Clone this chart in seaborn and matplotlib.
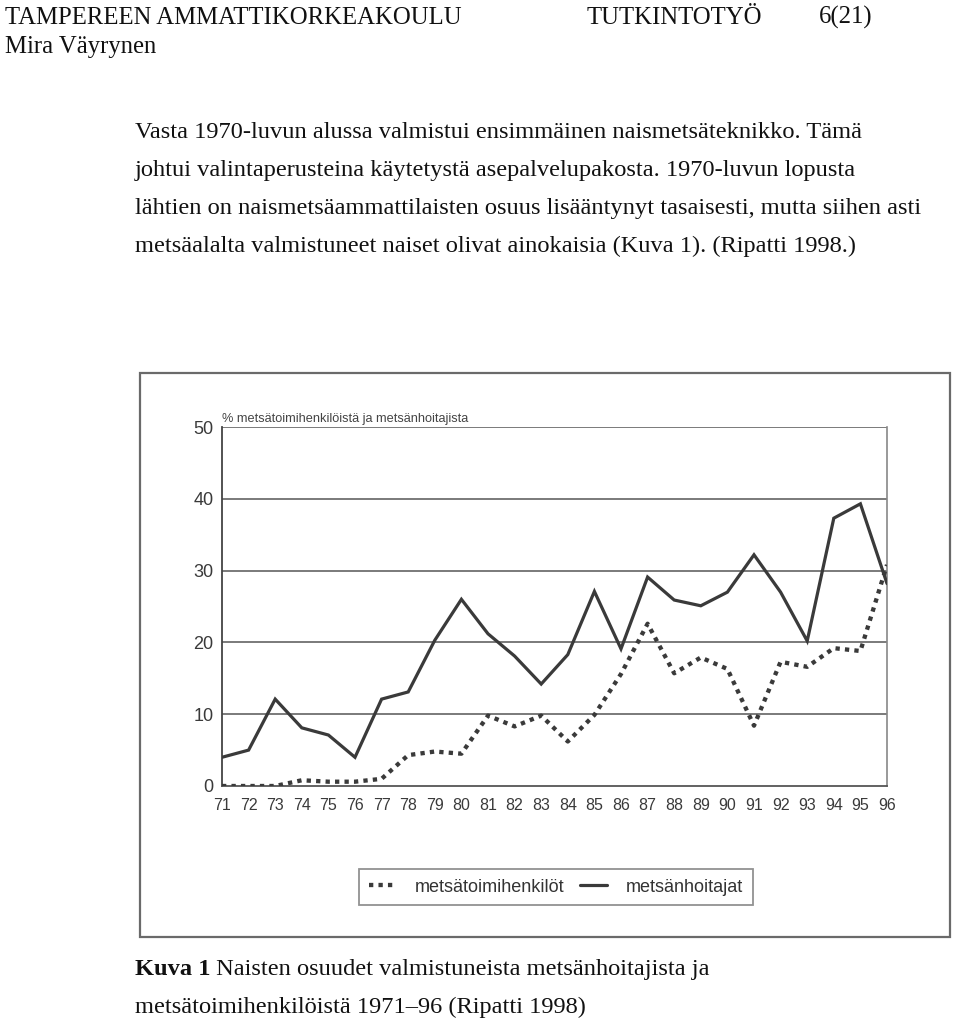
import matplotlib
matplotlib.use("Agg")
import matplotlib.pyplot as plt
import seaborn as sns
import pandas as pd
from matplotlib.patches import Rectangle
from matplotlib.lines import Line2D

# ---- data ----
years = list(range(1971, 1997))
year_labels = [str(y)[2:] for y in years]
metsanhoitajat = [4.0, 5.0, 12.1, 8.1, 7.1, 4.0, 12.1, 13.1, 20.3, 26.0, 21.2, 18.1, 14.2,
                  18.3, 27.1, 19.1, 29.1, 25.9, 25.1, 27.0, 32.2, 27.0, 20.2, 37.3, 39.3, 28.2]
metsatoimihenkilot = [0.0, 0.0, 0.0, 0.8, 0.6, 0.6, 1.0, 4.3, 4.8, 4.5, 9.8, 8.3, 9.8,
                      6.2, 9.9, 15.6, 22.6, 15.7, 17.9, 16.3, 8.4, 17.3, 16.6, 19.2, 18.8, 30.8]
y_ticks = [0, 10, 20, 30, 40, 50]
ylabel_text = "% metsätoimihenkilöistä ja metsänhoitajista"
legend_labels = ["metsätoimihenkilöt", "metsänhoitajat"]

header_left = ["TAMPEREEN AMMATTIKORKEAKOULU", "Mira Väyrynen"]
header_mid = "TUTKINTOTYÖ"
header_right = "6(21)"
body_lines = [
    "Vasta 1970-luvun alussa valmistui ensimmäinen naismetsäteknikko. Tämä",
    "johtui valintaperusteina käytetystä asepalvelupakosta. 1970-luvun lopusta",
    "lähtien on naismetsäammattilaisten osuus lisääntynyt tasaisesti, mutta siihen asti",
    "metsäalalta valmistuneet naiset olivat ainokaisia (Kuva 1). (Ripatti 1998.)",
]
caption_bold = "Kuva 1"
caption_rest = " Naisten osuudet valmistuneista metsänhoitajista ja"
caption_line2 = "metsätoimihenkilöistä 1971–96 (Ripatti 1998)"

df = pd.DataFrame({"year": years, "mh": metsanhoitajat, "mt": metsatoimihenkilot})

sns.set_style("white")
plt.rcParams["font.family"] = ["Liberation Sans", "DejaVu Sans"]

W, H = 960, 1026
fig = plt.figure(figsize=(W / 100, H / 100), dpi=100)

def fx(px):
    return px / W

def fy(py):
    return 1 - py / H

serif = ["Liberation Serif", "DejaVu Serif"]
tc = "#111111"
hs = 17.8
bs = 17.6
# header
fig.text(fx(5), fy(24), header_left[0], family=serif, fontsize=hs, color=tc, va="baseline")
fig.text(fx(5), fy(53), header_left[1], family=serif, fontsize=hs, color=tc, va="baseline")
fig.text(fx(587), fy(24), header_mid, family=serif, fontsize=hs, color=tc, va="baseline")
fig.text(fx(819), fy(24), header_right, family=serif, fontsize=hs, color=tc, va="baseline")
# body
for i, line in enumerate(body_lines):
    fig.text(fx(135), fy(138 + i * 38), line, family=serif, fontsize=bs, color=tc, va="baseline")

# caption
t1 = fig.text(fx(135), fy(975), caption_bold, family=serif, fontsize=bs, weight="bold",
              color=tc, va="baseline")
fig.canvas.draw()
bb = t1.get_window_extent()
fig.text(bb.x1 / W, fy(975), caption_rest, family=serif, fontsize=bs, color=tc, va="baseline")
fig.text(fx(135), fy(1013), caption_line2, family=serif, fontsize=bs, color=tc, va="baseline")

# outer chart frame
fig.patches.append(Rectangle((fx(140), fy(937)), fx(950) - fx(140), fy(373) - fy(937),
                             transform=fig.transFigure, fill=False, edgecolor="#6a6a6a",
                             linewidth=1.6))

# axes
ax_left, ax_right, ax_top, ax_bottom = 222, 887, 427, 786
ax = fig.add_axes([fx(ax_left), fy(ax_bottom), fx(ax_right) - fx(ax_left),
                   fy(ax_top) - fy(ax_bottom)])
ax.set_facecolor("none")

line_col = "#3a3a3a"
sns.lineplot(data=df, x="year", y="mh", ax=ax, color=line_col, linewidth=2.3,
             solid_joinstyle="miter", zorder=4)
sns.lineplot(data=df, x="year", y="mt", ax=ax, color=line_col, linewidth=3.1,
             linestyle=(0, (1, 1.2)), dash_capstyle="butt", zorder=5)

ax.set_xlim(years[0], years[-1])
ax.set_ylim(0, 50)
ax.set_xlabel("")
ax.set_ylabel("")
ax.set_xticks(years)
ax.set_xticklabels(year_labels, fontsize=11.5, color="#3a3a3a")
ax.set_yticks(y_ticks)
ax.set_yticklabels([str(v) for v in y_ticks], fontsize=13, color="#3a3a3a")
for v in y_ticks[1:]:
    ax.axhline(v, color="#707070", linewidth=1.3, zorder=1)
ax.tick_params(axis="x", direction="inout", length=9, width=1.0, color="#555555", pad=4)
ax.tick_params(axis="y", direction="out", length=5, width=1.0, color="#555555", pad=1)
ax.spines["top"].set_visible(False)
ax.spines["left"].set_color("#444444")
ax.spines["left"].set_linewidth(1.3)
ax.spines["bottom"].set_color("#555555")
ax.spines["bottom"].set_linewidth(1.3)
ax.spines["right"].set_color("#888888")
ax.spines["right"].set_linewidth(1.2)
ax.text(0.0, 1.006, ylabel_text, transform=ax.transAxes, fontsize=9.2, color="#444444",
        ha="left", va="bottom")

handles = [Line2D([], [], color=line_col, linewidth=3.1, linestyle=(0, (1, 1.2)),
                  dash_capstyle="butt"),
           Line2D([], [], color=line_col, linewidth=2.3)]
leg = fig.legend(handles, legend_labels, loc="center", ncol=2,
                 bbox_to_anchor=(fx(556), fy(887)), frameon=True, fancybox=False,
                 fontsize=13, handlelength=1.5, handletextpad=1.0, columnspacing=0.9,
                 borderpad=0.55, labelcolor="#333333")
leg.get_frame().set_edgecolor("#777777")
leg.get_frame().set_linewidth(1.3)

fig.savefig("out.png", dpi=100)
